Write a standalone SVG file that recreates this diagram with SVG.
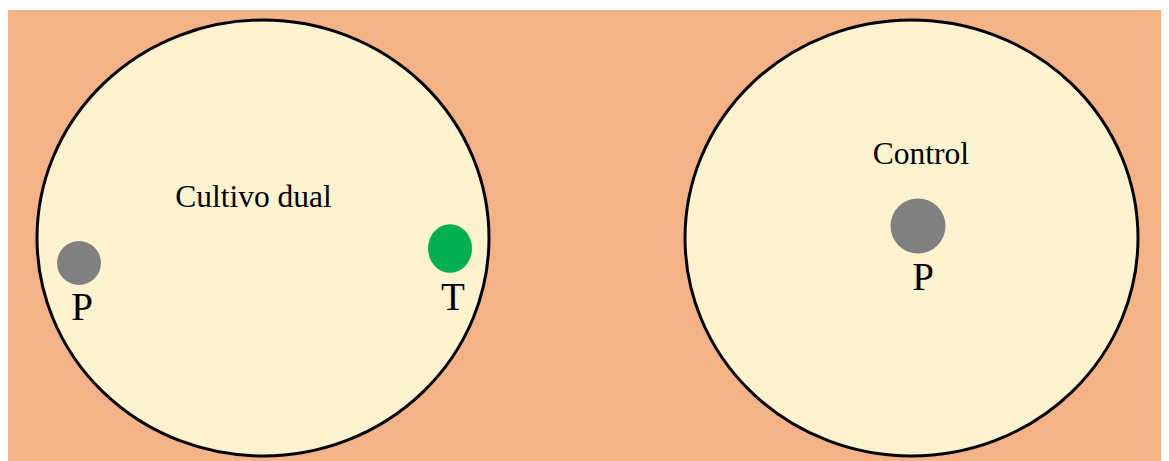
<svg xmlns="http://www.w3.org/2000/svg" width="1169" height="461" viewBox="0 0 1169 461">
<style>
.dish{fill:#fff2cf;stroke:#000;stroke-width:3}
.p{fill:#808080}
.t{fill:#00b050}
.lbl{font-family:"Liberation Serif",serif;fill:#000;text-anchor:middle}
.big{font-size:39px}
.small{font-size:31.5px}
</style>
<rect x="8" y="10" width="1153" height="451" fill="#f4b386"/>
<g id="dual">
<ellipse class="dish" cx="263" cy="238" rx="226" ry="218"/>
<text class="lbl small" x="253.5" y="207">Cultivo dual</text>
</g>
<g id="p-dual">
<circle class="p" cx="79" cy="263" r="22"/>
<text class="lbl big" x="82" y="320">P</text>
</g>
<g id="t-dual">
<ellipse class="t" cx="450" cy="248.5" rx="22" ry="24.3"/>
<text class="lbl big" x="453" y="310">T</text>
</g>
<g id="control">
<ellipse class="dish" cx="911.5" cy="238" rx="226.5" ry="218"/>
<text class="lbl small" x="921" y="164">Control</text>
</g>
<g id="p-control">
<circle class="p" cx="918" cy="226" r="27.5"/>
<text class="lbl big" x="923" y="290">P</text>
</g>
<g id="connectors"/>
</svg>
